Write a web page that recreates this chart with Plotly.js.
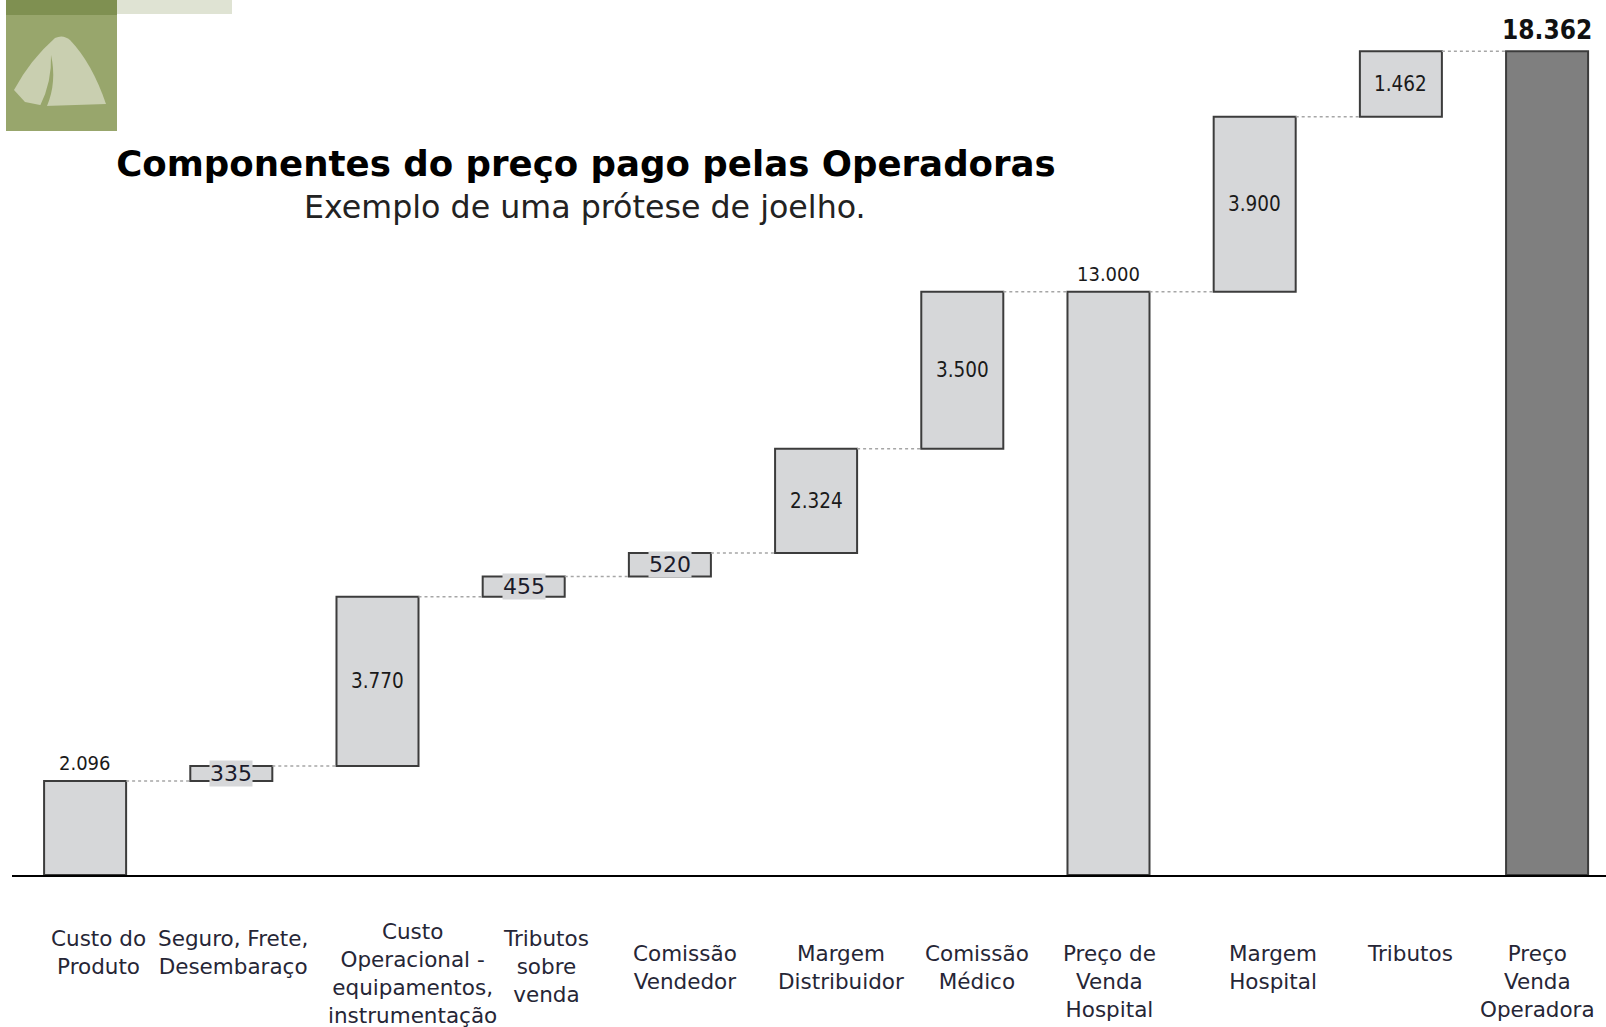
<!DOCTYPE html>
<html><head><meta charset="utf-8">
<script src="https://cdn.plot.ly/plotly-3.0.1.min.js"></script>
<style>html,body{margin:0;padding:0;background:#fff;overflow:hidden}</style>
</head><body><div id="chart" style="width:1606px;height:1027px"></div>
<script>
// ---- data ----
const categories = [
  "Custo do<br>Produto",
  "Seguro, Frete,<br>Desembaraço",
  "Custo<br>Operacional -<br>equipamentos,<br>instrumentação",
  "Tributos<br>sobre<br>venda",
  "Comissão<br>Vendedor",
  "Margem<br>Distribuidor",
  "Comissão<br>Médico",
  "Preço de<br>Venda<br>Hospital",
  "Margem<br>Hospital",
  "Tributos",
  "Preço<br>Venda<br>Operadora"
];
const values = [2096, 335, 3770, 455, 520, 2324, 3500, 13000, 3900, 1462, 18362];
const measures = ["relative","relative","relative","relative","relative","relative","relative","total","relative","relative","total"];
const chartTitle = "Componentes do preço pago pelas Operadoras";
const chartSubtitle = "Exemplo de uma prótese de joelho.";

// ---- derived ----
const fmt = n => String(n).replace(/\B(?=(\d{3})+(?!\d))/g, ".");
const idx = categories.map((_, i) => i);
const bases = [], heights = [], levels = [];
let running = 0;
values.forEach((v, i) => {
  if (measures[i] === "total") { bases.push(0); heights.push(running); }
  else { bases.push(running); heights.push(v); running += v; }
  levels.push(running);
});
const n = values.length;
const BW = 0.561;
const light = "#d6d7d9", dark = "#7f7f7f";
const fills = idx.map(i => i === n - 1 ? dark : light);

// connectors
const cx = [], cy = [];
for (let i = 0; i < n - 1; i++) {
  cx.push(i + BW / 2, i + 1 - BW / 2, null);
  cy.push(levels[i], levels[i], null);
}

const traces = [
  {
    type: "scatter", mode: "lines", x: cx, y: cy,
    line: {color: "#a6a6a6", width: 1.5, dash: "dot"},
    hoverinfo: "skip", showlegend: false
  },
  {
    type: "bar", x: idx, y: heights, base: bases, width: BW,
    marker: {color: fills, line: {color: "#3c3c3c", width: 2}},
    hoverinfo: "skip", showlegend: false
  }
];

// ---- annotations ----
const narrow = "DejaVu Sans Condensed, Liberation Sans Narrow, DejaVu Sans, sans-serif";
// horizontal nudges (px) of the category captions, as laid out in the original
const captionShift = [13, 2, 35, 22, 15, 25, 15, 1, 18, 9, -10];
const anns = [];
idx.forEach(i => {
  const top = bases[i] + heights[i];
  if (i === n - 1) {
    anns.push({x: i, y: top, xref: "x", yref: "y", yanchor: "bottom", yshift: 4, showarrow: false,
      text: fmt(values[i]), font: {family: narrow, size: 26, weight: "bold", color: "#111"}});
  } else if (i === 0 || measures[i] === "total") {
    anns.push({x: i, y: top, xref: "x", yref: "y", yanchor: "bottom", yshift: 4, showarrow: false,
      text: fmt(heights[i]), font: {family: narrow, size: 20, color: "#1a1a1a"}});
  } else if (values[i] < 1000) {
    anns.push({x: i, y: bases[i] + heights[i] / 2, xref: "x", yref: "y", yanchor: "middle", showarrow: false,
      text: fmt(values[i]), bgcolor: light, borderpad: 0,
      font: {family: "DejaVu Sans, Verdana, sans-serif", size: 22, color: "#1a1a2a"}});
  } else {
    anns.push({x: i, y: bases[i] + heights[i] / 2, xref: "x", yref: "y", yanchor: "middle", showarrow: false,
      text: fmt(values[i]), font: {family: narrow, size: 20.5, color: "#1a1a1a"}});
  }
  // category caption
  const drop = i === 2 ? 42 : (i < 4 ? 49 : 64);
  anns.push({x: i, y: 0, xref: "x", yref: "paper", yanchor: "top", yshift: -drop, xshift: captionShift[i],
    showarrow: false, align: "center", text: categories[i],
    font: {family: "DejaVu Sans, Verdana, sans-serif", size: 21.5, color: "#262636"}});
});

// plot-area geometry helpers (margins l=12, t=0, b=152)
const PL = 12, PW = 1594, PB = 875, PH = 875;
const px = x => (x - PL) / PW;
const py = y => (PB - y) / PH;
const P = (x, y) => px(x).toFixed(5) + "," + py(y).toFixed(5);

anns.push({x: px(585), y: py(207), xref: "paper", yref: "paper", xanchor: "center", yanchor: "middle",
  showarrow: false, text: chartSubtitle, font: {family: "DejaVu Sans, Verdana, sans-serif", size: 31.7, color: "#222"}});

// logo shapes
const shapes = [
  {type: "rect", xref: "paper", yref: "paper", x0: px(6), x1: px(117), y0: py(15), y1: py(0),
    fillcolor: "#7f9051", line: {width: 0}, layer: "above"},
  {type: "rect", xref: "paper", yref: "paper", x0: px(117), x1: px(232), y0: py(14), y1: py(0),
    fillcolor: "#dfe3d3", line: {width: 0}, layer: "above"},
  {type: "rect", xref: "paper", yref: "paper", x0: px(6), x1: px(117), y0: py(131), y1: py(15),
    fillcolor: "#98a66c", line: {width: 0}, layer: "above"},
  {type: "path", xref: "paper", yref: "paper", layer: "above", fillcolor: "#c9cfb0", line: {width: 0},
    path: "M" + P(14, 90) + " Q" + P(30, 60) + " " + P(55, 38) + " Q" + P(63, 34) + " " + P(70, 40) +
          " Q" + P(92, 63) + " " + P(106, 104) + " L" + P(45, 106) + " L" + P(25, 102) + " Z"},
  {type: "path", xref: "paper", yref: "paper", layer: "above", fillcolor: "#98a66c", line: {width: 0},
    path: "M" + P(51, 55) + " Q" + P(57, 82) + " " + P(47, 106) + " L" + P(40, 106) + " Q" + P(52, 82) + " " + P(51, 55) + " Z"}
];

const layout = {
  width: 1606, height: 1027,
  margin: {l: PL, r: 0, t: 0, b: 152, pad: 0},
  paper_bgcolor: "#fff", plot_bgcolor: "#fff",
  showlegend: false,
  title: {text: chartTitle, xref: "container", yref: "container", x: 586 / 1606, y: 1 - 164 / 1027,
    xanchor: "center", yanchor: "middle",
    font: {family: "DejaVu Sans, Verdana, sans-serif", size: 35.6, weight: "bold", color: "#000"}},
  xaxis: {range: [-0.5, 10.403], showticklabels: false, ticks: "", showgrid: false, zeroline: false,
    showline: true, linecolor: "#000", linewidth: 2, fixedrange: true},
  yaxis: {range: [0, 19503], visible: false, showgrid: false, zeroline: false, fixedrange: true},
  bargap: 0,
  annotations: anns,
  shapes: shapes
};

Plotly.newPlot("chart", traces, layout, {displayModeBar: false, staticPlot: true});
</script>
</body></html>
